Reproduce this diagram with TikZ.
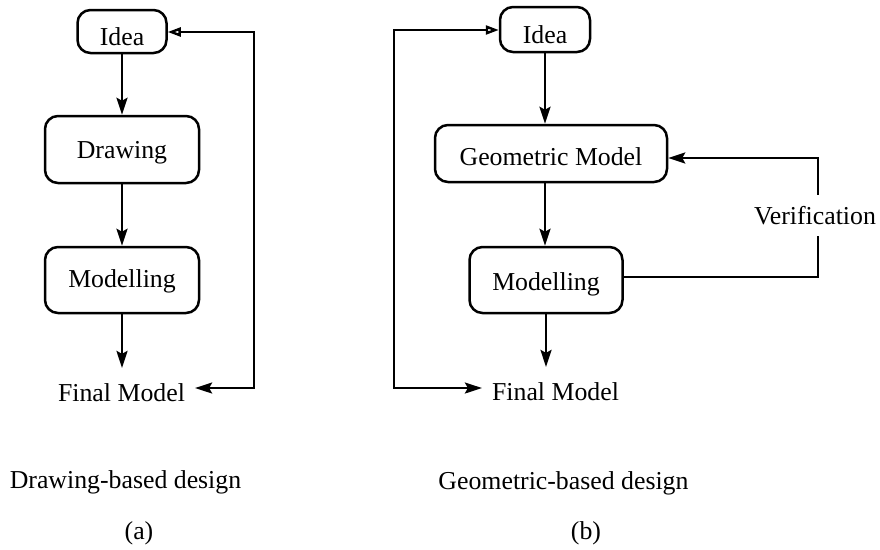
\documentclass[tikz,border=0pt]{standalone}
\usepackage{fontspec}
\setmainfont{Liberation Serif}
\usetikzlibrary{arrows.meta}
\begin{document}
\begin{tikzpicture}[x=1pt,y=-1pt,
  every node/.style={font=\fontsize{25.8}{30}\selectfont},
  box/.style={draw, line width=2.5pt, rounded corners=13pt, inner sep=0pt, text depth=0pt},
  lbl/.style={inner sep=0pt, anchor=base},
  fin/.style={anchor=base, inner xsep=10pt, inner ysep=15pt},
  flow/.style={line width=2.4pt, -{Stealth[length=17pt,width=11pt,inset=3pt]}},
  plain/.style={line width=2.4pt},
  fb/.style={line width=2.4pt, {Triangle[open,length=13pt,width=9pt]}-{Stealth[length=17pt,width=11pt,inset=3pt]}}
]
\fill[white] (0,0) rectangle (880,549);
\useasboundingbox (0,0) rectangle (880,549);

% ---- (a) Drawing-based design ----
\node[box, minimum width=89pt, minimum height=43pt, text height=27pt] (LIdea) at (122,31.5) {Idea};
\node[box, minimum width=154pt, minimum height=67pt, text height=17pt] (LDraw) at (122,149.5) {Drawing};
\node[box, minimum width=154pt, minimum height=66pt, text height=14pt] (LMod) at (122,280) {Modelling};
\node[fin] (LFinal) at (121.5,401) {Final Model};
\coordinate (LC1) at (254,32);
\coordinate (LC2) at (254,388);

\draw[flow] (LIdea.south) -- (LDraw.north);
\draw[flow] (LDraw.south) -- (LMod.north);
\draw[flow] (LMod.south) -- (LMod.south |- LFinal.north);
\draw[fb] (LC1 -| LIdea.east) -- (LC1) -- (LC2) -- (LC2 -| LFinal.east);

\node[lbl] (capa) at (125.5,488) {Drawing-based design};
\node[lbl] (laba) at (139,539) {(a)};

% ---- (b) Geometric-based design ----
\node[box, minimum width=90pt, minimum height=45pt, text height=27pt] (RIdea) at (545,29.5) {Idea};
\node[box, minimum width=232pt, minimum height=57pt, text height=23pt] (RGeo) at (551,153.5) {Geometric Model};
\node[box, minimum width=153pt, minimum height=66pt, text height=20pt] (RMod) at (546,280) {Modelling};
\node[fin] (RFinal) at (555.5,400) {Final Model};
\node[lbl, inner ysep=11pt] (ver) at (815,224) {Verification};
\coordinate (RC1) at (818,158);
\coordinate (RC2) at (818,277);
\coordinate (RC3) at (394,30);
\coordinate (RC4) at (394,388);

\draw[flow] (RIdea.south) -- (RIdea.south |- RGeo.north);
\draw[flow] (RGeo.south -| RIdea.south) -- (RMod.north -| RIdea.south);
\draw[flow] (RMod.south) -- (RMod.south |- RFinal.north);
\draw[plain] (RC2 -| RMod.east) -- (RC2) -- (RC2 |- ver.south);
\draw[flow] (RC1 |- ver.north) -- (RC1) -- (RC1 -| RGeo.east);
\draw[fb] (RC3 -| RIdea.west) -- (RC3) -- (RC4) -- (RC4 -| RFinal.west);

\node[lbl] (capb) at (563.5,489) {Geometric-based design};
\node[lbl] (labb) at (586,539) {(b)};
\end{tikzpicture}
\end{document}
